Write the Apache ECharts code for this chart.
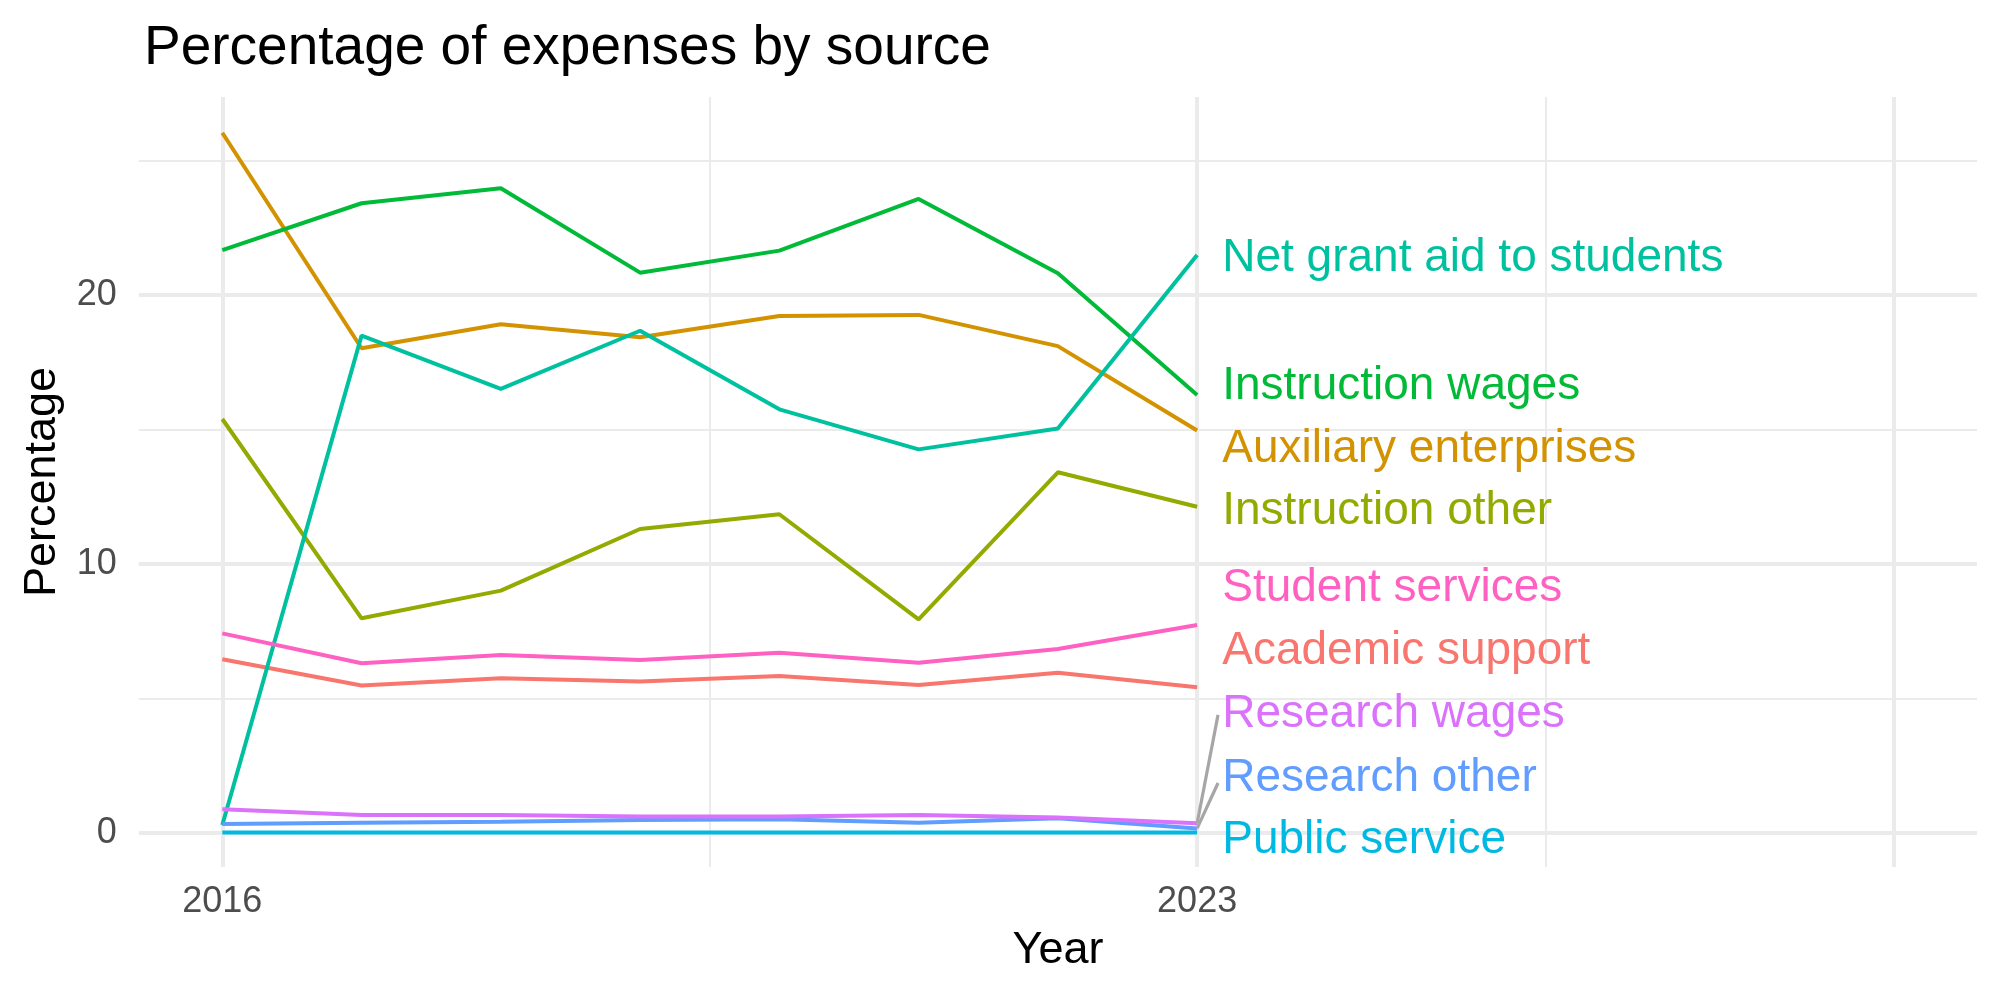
<!DOCTYPE html>
<html>
<head>
<meta charset="utf-8">
<script src="https://cdn.jsdelivr.net/npm/echarts@6/dist/echarts.min.js"></script>
<style>
  html, body { margin: 0; padding: 0; background: #fff; }
  #chart { width: 2000px; height: 1000px; }
</style>
</head>
<body>
<div id="chart"></div>
<script>
// data
const years = [2016, 2017, 2018, 2019, 2020, 2021, 2022, 2023]
const sources = [
  'Academic support', 'Auxiliary enterprises', 'Instruction other', 'Instruction wages',
  'Net grant aid to students', 'Public service', 'Research other', 'Research wages', 'Student services'
]
const academicSupport = [6.46, 5.48, 5.75, 5.63, 5.84, 5.50, 5.96, 5.42]
const auxiliaryEnterprises = [26.03, 18.02, 18.91, 18.43, 19.22, 19.26, 18.10, 14.96]
const instructionOther = [15.39, 7.98, 9.01, 11.30, 11.85, 7.94, 13.41, 12.13]
const instructionWages = [21.67, 23.41, 23.97, 20.83, 21.65, 23.57, 20.81, 16.28]
const netGrantAid = [0.30, 18.49, 16.51, 18.67, 15.75, 14.26, 15.04, 21.49]
const publicService = [0.02, 0.02, 0.02, 0.02, 0.02, 0.02, 0.02, 0.02]
const researchOther = [0.33, 0.38, 0.42, 0.48, 0.51, 0.38, 0.55, 0.17]
const researchWages = [0.88, 0.67, 0.67, 0.61, 0.61, 0.67, 0.58, 0.36]
const studentServices = [7.42, 6.31, 6.62, 6.43, 6.70, 6.33, 6.84, 7.73]
const yTicks = [0, 10, 20]
const xTicks = [2016, 2023]

const values = [academicSupport, auxiliaryEnterprises, instructionOther, instructionWages,
  netGrantAid, publicService, researchOther, researchWages, studentServices]

// layout of the repelled end labels (not data)
const labelX = 2023.18
const labelY = [6.76, 14.25, 11.94, 16.59, 21.35, -0.28, 2.05, 4.40, 9.10]
const segEnds = { 'Research wages': [2023.15, 4.39], 'Research other': [2023.15, 1.86] }

const colors = ['#F8766D', '#D39200', '#93AA00', '#00BA38', '#00C19F', '#00B9E3', '#619CFF', '#DB72FB', '#FF61C3']
const font = "'Liberation Sans', Arial, Helvetica, sans-serif"
const gridColor = '#EBEBEB'

const chart = echarts.init(document.getElementById('chart'))

// grid lines drawn as markLines so majors and minors can differ
const hLines = [
  { yAxis: 0, w: 4 }, { yAxis: 10, w: 4 }, { yAxis: 20, w: 4 },
  { yAxis: 5, w: 2 }, { yAxis: 15, w: 2 }, { yAxis: 25, w: 2 }
]
const vLines = [
  { xAxis: 2016, w: 4 }, { xAxis: 2023, w: 4 }, { xAxis: 2028, w: 4 },
  { xAxis: 2019.5, w: 2 }, { xAxis: 2025.5, w: 2 }
]
const gridSeries = {
  type: 'line',
  data: [],
  silent: true,
  z: 0,
  markLine: {
    silent: true,
    z: 0,
    symbol: 'none',
    animation: false,
    label: { show: false },
    emphasis: { disabled: true },
    data: [...hLines, ...vLines].map(l => {
      const d = l.yAxis !== undefined ? { yAxis: l.yAxis } : { xAxis: l.xAxis }
      d.lineStyle = { color: gridColor, width: l.w, type: 'solid' }
      return d
    })
  }
}

const lineSeries = sources.map((name, i) => ({
  name,
  type: 'line',
  data: years.map((y, j) => [y, values[i][j]]),
  showSymbol: false,
  symbol: 'none',
  z: 3,
  lineStyle: { color: colors[i], width: 4 },
  itemStyle: { color: colors[i] }
}))

const segSeries = Object.keys(segEnds).map(name => {
  const i = sources.indexOf(name)
  const last = years.length - 1
  return {
    type: 'line',
    data: [[years[last], values[i][last]], segEnds[name]],
    showSymbol: false,
    symbol: 'none',
    z: 4,
    lineStyle: { color: '#A6A6A6', width: 3.2 }
  }
})

const labelSeries = {
  type: 'scatter',
  symbolSize: 0,
  z: 5,
  itemStyle: { opacity: 1 },
  data: sources.map((name, i) => ({
    value: [labelX, labelY[i]],
    label: {
      show: true,
      position: 'right',
      distance: 0,
      formatter: name,
      color: colors[i],
      opacity: 1,
      fontSize: 46,
      fontFamily: font
    }
  }))
}

chart.setOption({
  animation: false,
  backgroundColor: '#fff',
  title: {
    text: 'Percentage of expenses by source',
    left: 139,
    top: 16,
    textStyle: { color: '#000', fontSize: 55, fontWeight: 'normal', fontFamily: font }
  },
  grid: { left: 138.75, right: 23, top: 97, bottom: 133, containLabel: false },
  xAxis: {
    type: 'value',
    min: 2015.4,
    max: 2028.6,
    axisLine: { show: false },
    axisTick: { show: false },
    splitLine: { show: false },
    axisLabel: {
      customValues: xTicks,
      formatter: v => String(v),
      margin: 17,
      color: '#4D4D4D',
      fontSize: 36,
      fontFamily: font
    }
  },
  yAxis: {
    type: 'value',
    min: -1.264,
    max: 27.36,
    axisLine: { show: false },
    axisTick: { show: false },
    splitLine: { show: false },
    axisLabel: {
      customValues: yTicks,
      formatter: v => String(v),
      margin: 22,
      color: '#4D4D4D',
      fontSize: 36,
      fontFamily: font
    }
  },
  graphic: [
    {
      type: 'text',
      x: 1058,
      y: 951,
      style: { text: 'Year', fill: '#000', fontSize: 45, fontFamily: font, textAlign: 'center', textVerticalAlign: 'middle' }
    },
    {
      type: 'text',
      x: 42.5,
      y: 482,
      rotation: Math.PI / 2,
      style: { text: 'Percentage', fill: '#000', fontSize: 45, fontFamily: font, textAlign: 'center', textVerticalAlign: 'middle' }
    }
  ],
  series: [gridSeries, ...lineSeries, ...segSeries, labelSeries]
})
</script>
</body>
</html>
